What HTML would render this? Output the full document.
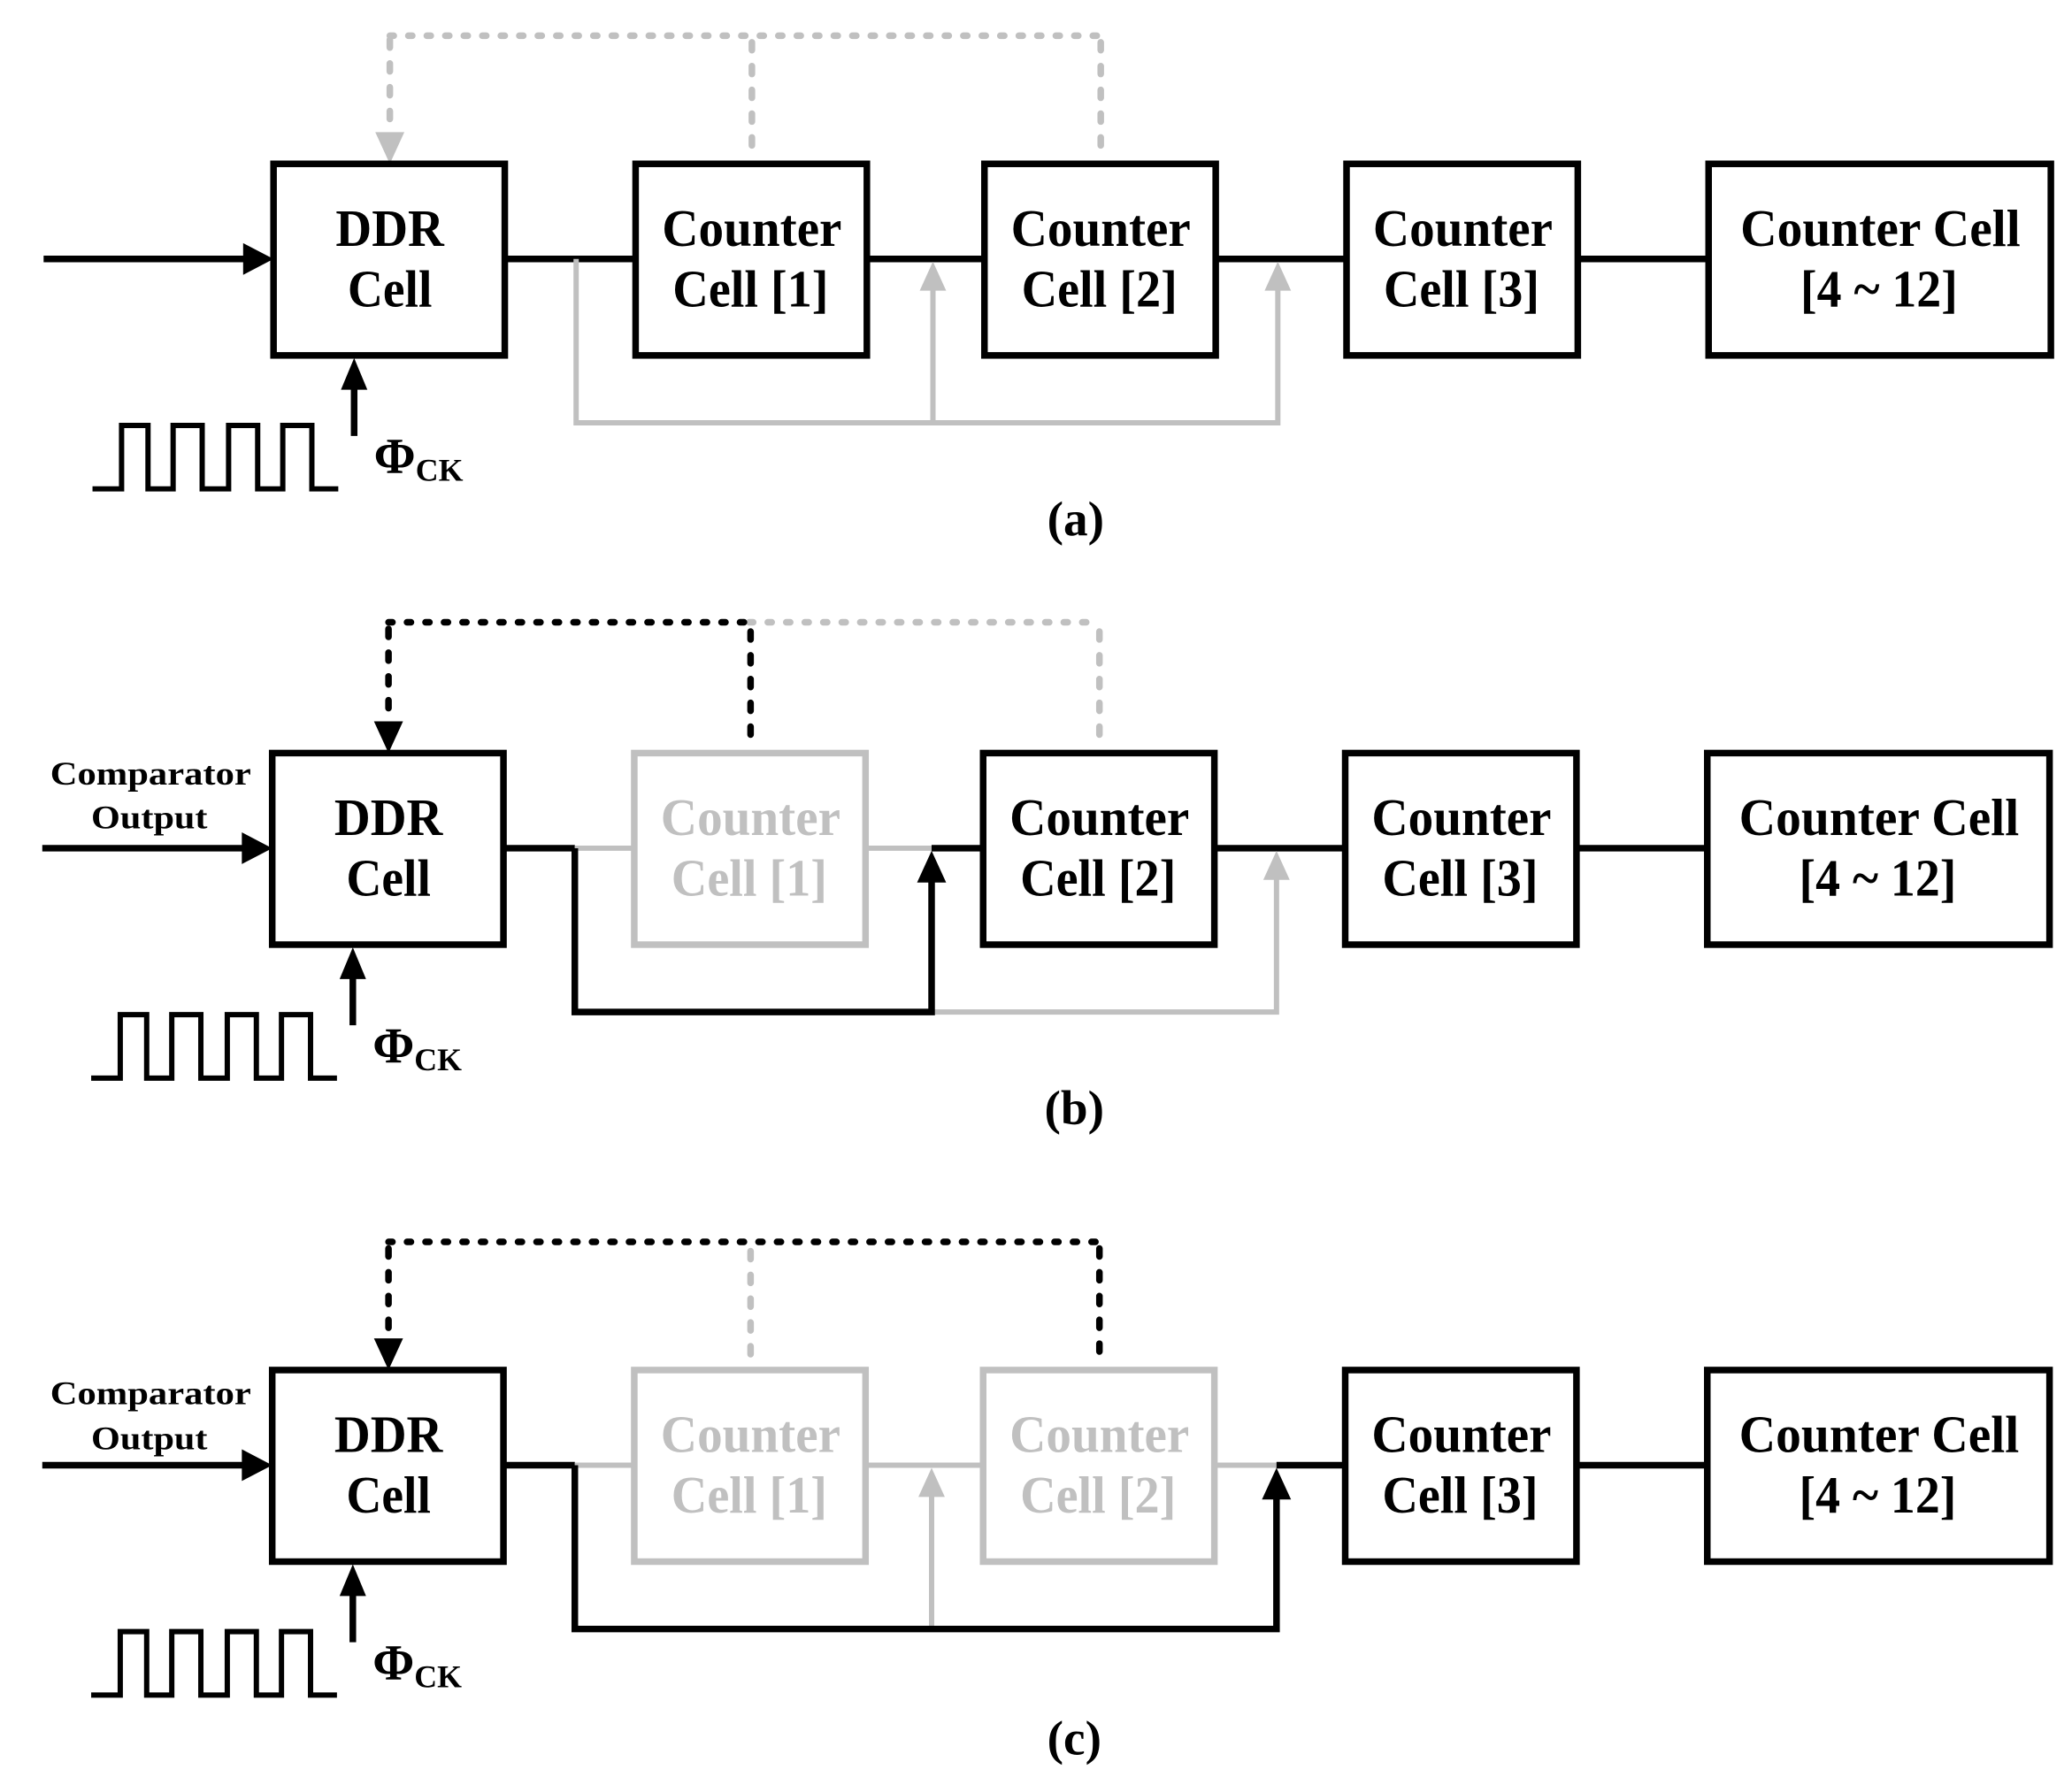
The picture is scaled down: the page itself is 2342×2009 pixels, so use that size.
<!DOCTYPE html>
<html><head><meta charset="utf-8"><style>
html,body{margin:0;padding:0;background:#fff;}
svg{display:block;}
text{font-family:"Liberation Serif",serif;font-weight:bold;}
</style></head><body>
<svg width="2342" height="2009" viewBox="0 0 1568 1345" xmlns="http://www.w3.org/2000/svg">
<defs>
<style>
.bx{fill:#fff;stroke:#000;stroke-width:5;}
.gbx{fill:#fff;stroke:#c0c0c0;stroke-width:5;}
.bl{stroke:#000;stroke-width:5;fill:none;stroke-linejoin:miter;}
.gl{stroke:#c0c0c0;stroke-width:4;fill:none;}
.hd{stroke-width:5;stroke-linecap:round;stroke-dasharray:3 11;fill:none;}
.vd{stroke-width:5;stroke-linecap:round;stroke-dasharray:6 12;fill:none;}
.t{font-size:40px;text-anchor:middle;}
</style>
</defs>

<!-- ================= Panel (a) ================= -->
<g>
  <path class="hd" stroke="#c0c0c0" d="M295 27 H833"/>
  <path class="vd" stroke="#c0c0c0" d="M295 30 V100"/>
  <path class="vd" stroke="#c0c0c0" d="M569 32 V122"/>
  <path class="vd" stroke="#c0c0c0" d="M833 32 V122"/>
  <polygon points="284,100 306,100 295,124" fill="#c0c0c0"/>
  <path class="bl" d="M33 196 H190"/>
  <polygon points="184,184 207,196 184,208" fill="#000"/>
  <path class="bl" d="M382 196 H481 M656 196 H745 M920 196 H1019 M1194 196 H1293"/>
  <path class="gl" d="M436 196 V320 H967 V216 M706 320 V216"/>
  <polygon points="696,220 716,220 706,198" fill="#c0c0c0"/>
  <polygon points="957,220 977,220 967,198" fill="#c0c0c0"/>
  <rect class="bx" x="207" y="124" width="175" height="145"/>
  <rect class="bx" x="481" y="124" width="175" height="145"/>
  <rect class="bx" x="745" y="124" width="175" height="145"/>
  <rect class="bx" x="1019" y="124" width="175" height="145"/>
  <rect class="bx" x="1293" y="124" width="259" height="145"/>
  <text class="t" x="295" y="186" textLength="82" lengthAdjust="spacingAndGlyphs">DDR</text>
  <text class="t" x="295" y="232" textLength="64" lengthAdjust="spacingAndGlyphs">Cell</text>
  <text class="t" x="569" y="186" textLength="136" lengthAdjust="spacingAndGlyphs">Counter</text>
  <text class="t" x="568" y="232" textLength="118" lengthAdjust="spacingAndGlyphs">Cell [1]</text>
  <text class="t" x="833" y="186" textLength="136" lengthAdjust="spacingAndGlyphs">Counter</text>
  <text class="t" x="832" y="232" textLength="118" lengthAdjust="spacingAndGlyphs">Cell [2]</text>
  <text class="t" x="1107" y="186" textLength="136" lengthAdjust="spacingAndGlyphs">Counter</text>
  <text class="t" x="1106" y="232" textLength="118" lengthAdjust="spacingAndGlyphs">Cell [3]</text>
  <text class="t" x="1423" y="186" textLength="212" lengthAdjust="spacingAndGlyphs">Counter Cell</text>
  <text class="t" x="1422" y="232" textLength="119" lengthAdjust="spacingAndGlyphs">[4 ~ 12]</text>
  <path class="bl" d="M268 330 V290" stroke-width="4.5"/>
  <polygon points="258,295 278,295 268,271" fill="#000"/>
  <path d="M70 370 H92 V322 H112 V370 H131 V322 H153 V370 H173 V322 H195 V370 H214 V322 H236 V370 H256" stroke="#000" stroke-width="4" fill="none"/>
  <text x="283" y="358" font-size="38">Φ<tspan font-size="24" dy="6">CK</tspan></text>
  <text x="814" y="405" font-size="37" text-anchor="middle">(a)</text>
</g>

<!-- ================= Panel (b) ================= -->
<g transform="translate(-1,446)">
  <path class="hd" stroke="#c0c0c0" d="M568 25 H833"/>
  <path class="vd" stroke="#c0c0c0" d="M833 32 V122"/>
  <path class="hd" stroke="#000" d="M295 25 H568"/>
  <path class="vd" stroke="#000" d="M295 30 V100"/>
  <path class="vd" stroke="#000" d="M569 32 V122"/>
  <polygon points="284,100 306,100 295,124" fill="#000"/>
  <path class="bl" d="M33 196 H190"/>
  <polygon points="184,184 207,196 184,208" fill="#000"/>
  <path class="bl" d="M382 196 H436"/>
  <path class="gl" d="M436 196 H481 M656 196 H706"/>
  <path class="bl" d="M706 196 H745 M920 196 H1019 M1194 196 H1293"/>
  <path class="gl" d="M706 320 H967 V216"/>
  <polygon points="957,220 977,220 967,198" fill="#c0c0c0"/>
  <path class="bl" d="M436 196 V320 H706 V216"/>
  <polygon points="695,222 717,222 706,198" fill="#000"/>
  <rect class="bx" x="207" y="124" width="175" height="145"/>
  <rect class="gbx" x="481" y="124" width="175" height="145"/>
  <rect class="bx" x="745" y="124" width="175" height="145"/>
  <rect class="bx" x="1019" y="124" width="175" height="145"/>
  <rect class="bx" x="1293" y="124" width="259" height="145"/>
  <text class="t" x="295" y="186" textLength="82" lengthAdjust="spacingAndGlyphs">DDR</text>
  <text class="t" x="295" y="232" textLength="64" lengthAdjust="spacingAndGlyphs">Cell</text>
  <text class="t" x="569" y="186" fill="#c0c0c0" textLength="136" lengthAdjust="spacingAndGlyphs">Counter</text>
  <text class="t" x="568" y="232" fill="#c0c0c0" textLength="118" lengthAdjust="spacingAndGlyphs">Cell [1]</text>
  <text class="t" x="833" y="186" textLength="136" lengthAdjust="spacingAndGlyphs">Counter</text>
  <text class="t" x="832" y="232" textLength="118" lengthAdjust="spacingAndGlyphs">Cell [2]</text>
  <text class="t" x="1107" y="186" textLength="136" lengthAdjust="spacingAndGlyphs">Counter</text>
  <text class="t" x="1106" y="232" textLength="118" lengthAdjust="spacingAndGlyphs">Cell [3]</text>
  <text class="t" x="1423" y="186" textLength="212" lengthAdjust="spacingAndGlyphs">Counter Cell</text>
  <text class="t" x="1422" y="232" textLength="119" lengthAdjust="spacingAndGlyphs">[4 ~ 12]</text>
  <text x="115" y="148" font-size="25" text-anchor="middle" textLength="152" lengthAdjust="spacingAndGlyphs">Comparator</text>
  <text x="114" y="181" font-size="25" text-anchor="middle" textLength="88" lengthAdjust="spacingAndGlyphs">Output</text>
  <path class="bl" d="M268 330 V290" stroke-width="4.5"/>
  <polygon points="258,295 278,295 268,271" fill="#000"/>
  <path d="M70 370 H92 V322 H112 V370 H131 V322 H153 V370 H173 V322 H195 V370 H214 V322 H236 V370 H256" stroke="#000" stroke-width="4" fill="none"/>
  <text x="283" y="358" font-size="38">Φ<tspan font-size="24" dy="6">CK</tspan></text>
  <text x="814" y="405" font-size="37" text-anchor="middle">(b)</text>
</g>

<!-- ================= Panel (c) ================= -->
<g transform="translate(-1,913)">
  <path class="hd" stroke="#000" d="M295 27 H833"/>
  <path class="vd" stroke="#000" d="M295 32 V100"/>
  <path class="vd" stroke="#c0c0c0" d="M569 34 V122"/>
  <path class="vd" stroke="#000" d="M833 32 V120"/>
  <polygon points="284,100 306,100 295,124" fill="#000"/>
  <path class="bl" d="M33 196 H190"/>
  <polygon points="184,184 207,196 184,208" fill="#000"/>
  <path class="bl" d="M382 196 H436"/>
  <path class="gl" d="M436 196 H967"/>
  <path class="bl" d="M967 196 H1019 M1194 196 H1293"/>
  <path class="gl" d="M706 320 V216"/>
  <polygon points="696,220 716,220 706,198" fill="#c0c0c0"/>
  <path class="bl" d="M436 196 V320 H967 V216"/>
  <polygon points="956,222 978,222 967,198" fill="#000"/>
  <rect class="bx" x="207" y="124" width="175" height="145"/>
  <rect class="gbx" x="481" y="124" width="175" height="145"/>
  <rect class="gbx" x="745" y="124" width="175" height="145"/>
  <rect class="bx" x="1019" y="124" width="175" height="145"/>
  <rect class="bx" x="1293" y="124" width="259" height="145"/>
  <text class="t" x="295" y="186" textLength="82" lengthAdjust="spacingAndGlyphs">DDR</text>
  <text class="t" x="295" y="232" textLength="64" lengthAdjust="spacingAndGlyphs">Cell</text>
  <text class="t" x="569" y="186" fill="#c0c0c0" textLength="136" lengthAdjust="spacingAndGlyphs">Counter</text>
  <text class="t" x="568" y="232" fill="#c0c0c0" textLength="118" lengthAdjust="spacingAndGlyphs">Cell [1]</text>
  <text class="t" x="833" y="186" fill="#c0c0c0" textLength="136" lengthAdjust="spacingAndGlyphs">Counter</text>
  <text class="t" x="832" y="232" fill="#c0c0c0" textLength="118" lengthAdjust="spacingAndGlyphs">Cell [2]</text>
  <text class="t" x="1107" y="186" textLength="136" lengthAdjust="spacingAndGlyphs">Counter</text>
  <text class="t" x="1106" y="232" textLength="118" lengthAdjust="spacingAndGlyphs">Cell [3]</text>
  <text class="t" x="1423" y="186" textLength="212" lengthAdjust="spacingAndGlyphs">Counter Cell</text>
  <text class="t" x="1422" y="232" textLength="119" lengthAdjust="spacingAndGlyphs">[4 ~ 12]</text>
  <text x="115" y="150" font-size="25" text-anchor="middle" textLength="152" lengthAdjust="spacingAndGlyphs">Comparator</text>
  <text x="114" y="184" font-size="25" text-anchor="middle" textLength="88" lengthAdjust="spacingAndGlyphs">Output</text>
  <path class="bl" d="M268 330 V290" stroke-width="4.5"/>
  <polygon points="258,295 278,295 268,271" fill="#000"/>
  <path d="M70 370 H92 V322 H112 V370 H131 V322 H153 V370 H173 V322 H195 V370 H214 V322 H236 V370 H256" stroke="#000" stroke-width="4" fill="none"/>
  <text x="283" y="358" font-size="38">Φ<tspan font-size="24" dy="6">CK</tspan></text>
  <text x="814" y="415" font-size="37" text-anchor="middle">(c)</text>
</g>
</svg>
</body></html>
